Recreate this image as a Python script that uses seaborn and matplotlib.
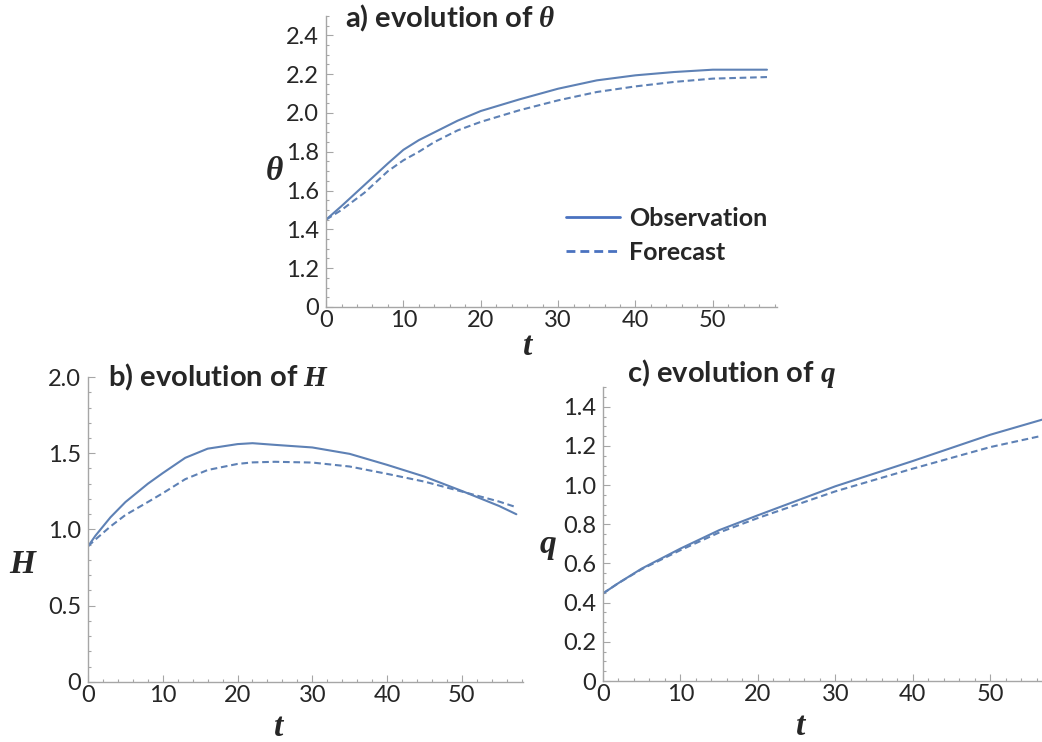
import matplotlib.pyplot as plt
import seaborn as sns
from matplotlib.ticker import MultipleLocator

# panel a: theta
t_a = [0, 2, 5, 8, 10, 12, 14, 17, 20, 25, 30, 35, 40, 45, 50, 57]
theta_obs = [1.45, 1.52, 1.63, 1.74, 1.81, 1.86, 1.90, 1.96, 2.01, 2.07, 2.125, 2.168, 2.194, 2.211, 2.223, 2.223]
theta_fc = [1.45, 1.50, 1.59, 1.70, 1.756, 1.80, 1.85, 1.91, 1.954, 2.014, 2.065, 2.108, 2.137, 2.16, 2.177, 2.185]

# panel b: H
t_b = [0, 1, 3, 5, 8, 10, 13, 16, 20, 22, 25, 30, 35, 40, 45, 50, 55, 57.3]
H_obs = [0.89, 0.96, 1.08, 1.18, 1.30, 1.37, 1.47, 1.53, 1.56, 1.566, 1.555, 1.538, 1.496, 1.424, 1.347, 1.253, 1.154, 1.10]
H_fc = [0.89, 0.935, 1.02, 1.095, 1.18, 1.238, 1.33, 1.39, 1.43, 1.44, 1.444, 1.439, 1.413, 1.365, 1.314, 1.249, 1.183, 1.146]

# panel c: q
t_c = [0, 2, 5, 10, 15, 20, 30, 40, 50, 56.7]
q_obs = [0.447, 0.50, 0.574, 0.676, 0.77, 0.846, 0.994, 1.123, 1.257, 1.334]
q_fc = [0.447, 0.50, 0.571, 0.668, 0.758, 0.832, 0.968, 1.084, 1.194, 1.252]

x_ticks = [0, 10, 20, 30, 40, 50]
x_labels = ['0', '10', '20', '30', '40', '50']
# panel a uses a broken axis: bottom of the axis is labelled 0
yticks_a = [1.0, 1.2, 1.4, 1.6, 1.8, 2.0, 2.2, 2.4]
ylabels_a = ['0', '1.2', '1.4', '1.6', '1.8', '2.0', '2.2', '2.4']
yticks_b = [0, 0.5, 1.0, 1.5, 2.0]
ylabels_b = ['0', '0.5', '1.0', '1.5', '2.0']
yticks_c = [0, 0.2, 0.4, 0.6, 0.8, 1.0, 1.2, 1.4]
ylabels_c = ['0', '0.2', '0.4', '0.6', '0.8', '1.0', '1.2', '1.4']

sns.set_style('ticks')
plt.rcParams['font.family'] = ['Lato', 'DejaVu Sans']
plt.rcParams['mathtext.fontset'] = 'custom'
plt.rcParams['mathtext.bfit'] = 'Liberation Serif:italic:bold'

LINE = '#5e81b5'
GRAY = '#a6a6a6'
DASH = (0, (3.2, 1.8))
SERIF = dict(family='Liberation Serif', weight='bold', style='italic', fontsize=24)
TITLE_SIZE = 21


def style_axes(ax, xlim, ylim, yticks, ylabels, yminor):
    sns.despine(ax=ax)
    for s in ['left', 'bottom']:
        ax.spines[s].set_color(GRAY)
        ax.spines[s].set_linewidth(1.0)
    ax.set_xlim(*xlim)
    ax.set_ylim(*ylim)
    ax.set_xticks(x_ticks, x_labels)
    ax.xaxis.set_minor_locator(MultipleLocator(2))
    ax.set_yticks(yticks, ylabels)
    ax.yaxis.set_minor_locator(MultipleLocator(yminor))
    ax.tick_params(which='both', direction='in', color=GRAY, width=0.8, labelsize=17)
    ax.tick_params(which='major', length=5)
    ax.tick_params(which='minor', length=2.5)
    ax.tick_params(axis='x', pad=2)
    ax.tick_params(axis='y', pad=5)


def set_labels(ax, xl, yl, xpos, ypos):
    ax.set_xlabel(xl, **SERIF)
    ax.set_ylabel(yl, rotation=0, **SERIF)
    ax.xaxis.set_label_coords(*xpos)
    ax.yaxis.set_label_coords(*ypos)
    ax.xaxis.label.set_va('center')
    ax.yaxis.label.set_va('center')


fig = plt.figure(figsize=(10.42, 7.42), dpi=100)
ax_a = fig.add_axes([0.3129, 0.5863, 0.4328, 0.3922])
ax_b = fig.add_axes([0.0845, 0.0809, 0.4175, 0.4110])
ax_c = fig.add_axes([0.5787, 0.0822, 0.4213, 0.3960])

# a) theta
sns.lineplot(x=t_a, y=theta_obs, ax=ax_a, color=LINE, lw=1.5, label='Observation')
sns.lineplot(x=t_a, y=theta_fc, ax=ax_a, color=LINE, lw=1.5, linestyle=DASH, label='Forecast')
style_axes(ax_a, (0, 58.3), (1.0, 2.5), yticks_a, ylabels_a, 0.05)
ax_a.text(0.042, 0.99, r'a) evolution of $\mathbfit{\theta}$', transform=ax_a.transAxes,
          fontsize=TITLE_SIZE, fontweight='bold', va='center', ha='left')
set_labels(ax_a, 't', 'θ', (0.448, -0.137), (-0.115, 0.465))
leg = ax_a.legend(loc='center left', bbox_to_anchor=(0.532, 0.246), frameon=False,
                  prop=dict(weight='bold', size=18), handlelength=2.15,
                  handletextpad=0.36, labelspacing=0.45, borderpad=0, borderaxespad=0)
for h in leg.get_lines():
    h.set_linewidth(2.0)
    h.set_color('#4a72c0')

# b) H
sns.lineplot(x=t_b, y=H_obs, ax=ax_b, color=LINE, lw=1.5)
sns.lineplot(x=t_b, y=H_fc, ax=ax_b, color=LINE, lw=1.5, linestyle=DASH)
style_axes(ax_b, (0, 58.2), (0, 2.0), yticks_b, ylabels_b, 0.1)
ax_b.text(0.046, 1.0, r'b) evolution of $\mathbfit{H}$', transform=ax_b.transAxes,
          fontsize=TITLE_SIZE, fontweight='bold', va='center', ha='left')
set_labels(ax_b, 't', 'H', (0.437, -0.148), (-0.152, 0.384))

# c) q
sns.lineplot(x=t_c, y=q_obs, ax=ax_c, color=LINE, lw=1.5)
sns.lineplot(x=t_c, y=q_fc, ax=ax_c, color=LINE, lw=1.5, linestyle=DASH)
style_axes(ax_c, (0, 56.7), (0, 1.5), yticks_c, ylabels_c, 0.05)
ax_c.text(0.055, 1.048, r'c) evolution of $\mathbfit{q}$', transform=ax_c.transAxes,
          fontsize=TITLE_SIZE, fontweight='bold', va='center', ha='left')
set_labels(ax_c, 't', 'q', (0.449, -0.156), (-0.125, 0.463))

fig.savefig('out.png', dpi=100)
